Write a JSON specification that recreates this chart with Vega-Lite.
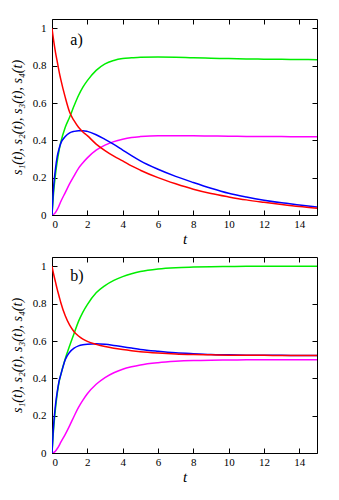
{
  "$schema": "https://vega.github.io/schema/vega-lite/v6.json",
  "autosize": "pad",
  "padding": {"left": 9, "top": 18, "right": 5, "bottom": 5},
  "background": "white",
  "config": {
    "view": {"stroke": "black", "strokeWidth": 1},
    "concat": {"spacing": 9},
    "axis": {
      "grid": false, "domain": false,
      "tickColor": "black", "tickSize": -5, "tickWidth": 1,
      "labelFont": "'Liberation Serif', 'Times New Roman', serif", "labelFontSize": 11, "labelColor": "black", "labelPadding": 11,
      "titleFont": "'Liberation Serif', 'Times New Roman', serif", "titleFontSize": 14, "titleFontWeight": "normal", "titleColor": "black"
    },
    "axisX": {"labelPadding": 8, "titlePadding": 2, "titleFontSize": 15},
    "axisY": {"titlePadding": 8}
  },
  "data": {"values": [
    {"p":"a","t":0,"s1":1,"s2":0,"s3":0,"s4":0},
    {"p":"a","t":0.1,"s1":0.93,"s2":0.13,"s3":0.16,"s4":0.004},
    {"p":"a","t":0.2,"s1":0.87,"s2":0.22,"s3":0.25,"s4":0.014},
    {"p":"a","t":0.3,"s1":0.82,"s2":0.29,"s3":0.315,"s4":0.03},
    {"p":"a","t":0.4,"s1":0.77,"s2":0.345,"s3":0.355,"s4":0.05},
    {"p":"a","t":0.5,"s1":0.725,"s2":0.39,"s3":0.385,"s4":0.072},
    {"p":"a","t":0.75,"s1":0.63,"s2":0.47,"s3":0.42,"s4":0.12},
    {"p":"a","t":1,"s1":0.55,"s2":0.525,"s3":0.44,"s4":0.168},
    {"p":"a","t":1.25,"s1":0.505,"s2":0.585,"s3":0.448,"s4":0.21},
    {"p":"a","t":1.5,"s1":0.47,"s2":0.64,"s3":0.452,"s4":0.25},
    {"p":"a","t":1.75,"s1":0.445,"s2":0.685,"s3":0.452,"s4":0.28},
    {"p":"a","t":2,"s1":0.425,"s2":0.72,"s3":0.448,"s4":0.306},
    {"p":"a","t":2.5,"s1":0.38,"s2":0.775,"s3":0.43,"s4":0.347},
    {"p":"a","t":3,"s1":0.345,"s2":0.81,"s3":0.405,"s4":0.374},
    {"p":"a","t":3.5,"s1":0.315,"s2":0.828,"s3":0.378,"s4":0.393},
    {"p":"a","t":4,"s1":0.29,"s2":0.838,"s3":0.348,"s4":0.406},
    {"p":"a","t":4.5,"s1":0.263,"s2":0.842,"s3":0.318,"s4":0.415},
    {"p":"a","t":5,"s1":0.24,"s2":0.845,"s3":0.29,"s4":0.42},
    {"p":"a","t":6,"s1":0.2,"s2":0.846,"s3":0.245,"s4":0.425},
    {"p":"a","t":7,"s1":0.167,"s2":0.845,"s3":0.207,"s4":0.425},
    {"p":"a","t":8,"s1":0.138,"s2":0.842,"s3":0.174,"s4":0.424},
    {"p":"a","t":9,"s1":0.115,"s2":0.84,"s3":0.143,"s4":0.423},
    {"p":"a","t":10,"s1":0.097,"s2":0.838,"s3":0.116,"s4":0.422},
    {"p":"a","t":11,"s1":0.081,"s2":0.836,"s3":0.096,"s4":0.421},
    {"p":"a","t":12,"s1":0.068,"s2":0.835,"s3":0.079,"s4":0.42},
    {"p":"a","t":13,"s1":0.056,"s2":0.834,"s3":0.065,"s4":0.42},
    {"p":"a","t":14,"s1":0.045,"s2":0.833,"s3":0.054,"s4":0.419},
    {"p":"a","t":15,"s1":0.036,"s2":0.832,"s3":0.043,"s4":0.419},
    {"p":"b","t":0,"s1":1,"s2":0,"s3":0,"s4":0},
    {"p":"b","t":0.1,"s1":0.955,"s2":0.14,"s3":0.16,"s4":0.003},
    {"p":"b","t":0.2,"s1":0.915,"s2":0.24,"s3":0.26,"s4":0.011},
    {"p":"b","t":0.3,"s1":0.875,"s2":0.32,"s3":0.33,"s4":0.024},
    {"p":"b","t":0.4,"s1":0.84,"s2":0.38,"s3":0.385,"s4":0.04},
    {"p":"b","t":0.5,"s1":0.805,"s2":0.42,"s3":0.42,"s4":0.058},
    {"p":"b","t":0.75,"s1":0.735,"s2":0.505,"s3":0.5,"s4":0.1},
    {"p":"b","t":1,"s1":0.685,"s2":0.575,"s3":0.54,"s4":0.147},
    {"p":"b","t":1.25,"s1":0.65,"s2":0.64,"s3":0.562,"s4":0.197},
    {"p":"b","t":1.5,"s1":0.627,"s2":0.705,"s3":0.574,"s4":0.244},
    {"p":"b","t":1.75,"s1":0.61,"s2":0.755,"s3":0.58,"s4":0.283},
    {"p":"b","t":2,"s1":0.598,"s2":0.795,"s3":0.583,"s4":0.317},
    {"p":"b","t":2.5,"s1":0.582,"s2":0.858,"s3":0.585,"s4":0.368},
    {"p":"b","t":3,"s1":0.57,"s2":0.897,"s3":0.582,"s4":0.404},
    {"p":"b","t":3.5,"s1":0.561,"s2":0.925,"s3":0.576,"s4":0.43},
    {"p":"b","t":4,"s1":0.554,"s2":0.945,"s3":0.569,"s4":0.449},
    {"p":"b","t":4.5,"s1":0.548,"s2":0.96,"s3":0.562,"s4":0.462},
    {"p":"b","t":5,"s1":0.543,"s2":0.972,"s3":0.555,"s4":0.472},
    {"p":"b","t":6,"s1":0.536,"s2":0.986,"s3":0.545,"s4":0.484},
    {"p":"b","t":7,"s1":0.531,"s2":0.993,"s3":0.537,"s4":0.491},
    {"p":"b","t":8,"s1":0.528,"s2":0.996,"s3":0.532,"s4":0.495},
    {"p":"b","t":9,"s1":0.526,"s2":0.998,"s3":0.528,"s4":0.497},
    {"p":"b","t":10,"s1":0.524,"s2":0.999,"s3":0.526,"s4":0.498},
    {"p":"b","t":11,"s1":0.523,"s2":1,"s3":0.524,"s4":0.499},
    {"p":"b","t":12,"s1":0.523,"s2":1,"s3":0.523,"s4":0.5},
    {"p":"b","t":13,"s1":0.522,"s2":1,"s3":0.523,"s4":0.5},
    {"p":"b","t":14,"s1":0.522,"s2":1,"s3":0.522,"s4":0.5},
    {"p":"b","t":15,"s1":0.522,"s2":1,"s3":0.522,"s4":0.5}
  ]},
  "vconcat": [
    {
      "width": 265, "height": 196,
      "layer": [
        {
          "transform": [{"filter": "datum.p === 'a'"}, {"fold": ["s2", "s4", "s3", "s1"], "as": ["series", "v"]}],
          "mark": {"type": "line", "strokeWidth": 1.5, "interpolate": "monotone", "clip": true},
          "encoding": {
            "x": {"field": "t", "type": "quantitative", "scale": {"domain": [0, 15], "nice": false}, "axis": {"values": [0, 2, 4, 6, 8, 10, 12, 14], "title": "t", "titleFontStyle": "italic"}},
            "y": {"field": "v", "type": "quantitative", "scale": {"domain": [0, 1.05], "nice": false}, "axis": {"values": [0, 0.2, 0.4, 0.6, 0.8, 1], "format": ".1~f", "title": "s₁(t), s₂(t), s₃(t), s₄(t)", "titleFontStyle": "italic"}},
            "color": {"field": "series", "type": "nominal", "scale": {"domain": ["s1", "s2", "s3", "s4"], "range": ["#ff0000", "#00ee00", "#0000ff", "#ff00ff"]}, "legend": null}
          }
        },
        {
          "data": {"values": [{"label": "a)"}]},
          "mark": {"type": "text", "align": "left", "baseline": "middle", "font": "'Liberation Serif', 'Times New Roman', serif", "fontSize": 16, "color": "black"},
          "encoding": {
            "text": {"field": "label"},
            "x": {"datum": 1.04, "type": "quantitative", "axis": {"orient": "top", "values": [0, 2, 4, 6, 8, 10, 12, 14], "labels": false, "title": null}},
            "y": {"datum": 0.94, "type": "quantitative", "axis": {"orient": "right", "values": [0, 0.2, 0.4, 0.6, 0.8, 1], "labels": false, "title": null}}
          }
        }
      ],
      "resolve": {"axis": {"x": "independent", "y": "independent"}}
    },
    {
      "width": 265, "height": 196,
      "layer": [
        {
          "transform": [{"filter": "datum.p === 'b'"}, {"fold": ["s2", "s4", "s3", "s1"], "as": ["series", "v"]}],
          "mark": {"type": "line", "strokeWidth": 1.5, "interpolate": "monotone", "clip": true},
          "encoding": {
            "x": {"field": "t", "type": "quantitative", "scale": {"domain": [0, 15], "nice": false}, "axis": {"values": [0, 2, 4, 6, 8, 10, 12, 14], "title": "t", "titleFontStyle": "italic"}},
            "y": {"field": "v", "type": "quantitative", "scale": {"domain": [0, 1.05], "nice": false}, "axis": {"values": [0, 0.2, 0.4, 0.6, 0.8, 1], "format": ".1~f", "title": "s₁(t), s₂(t), s₃(t), s₄(t)", "titleFontStyle": "italic"}},
            "color": {"field": "series", "type": "nominal", "scale": {"domain": ["s1", "s2", "s3", "s4"], "range": ["#ff0000", "#00ee00", "#0000ff", "#ff00ff"]}, "legend": null}
          }
        },
        {
          "data": {"values": [{"label": "b)"}]},
          "mark": {"type": "text", "align": "left", "baseline": "middle", "font": "'Liberation Serif', 'Times New Roman', serif", "fontSize": 16, "color": "black"},
          "encoding": {
            "text": {"field": "label"},
            "x": {"datum": 1.04, "type": "quantitative", "axis": {"orient": "top", "values": [0, 2, 4, 6, 8, 10, 12, 14], "labels": false, "title": null}},
            "y": {"datum": 0.95, "type": "quantitative", "axis": {"orient": "right", "values": [0, 0.2, 0.4, 0.6, 0.8, 1], "labels": false, "title": null}}
          }
        }
      ],
      "resolve": {"axis": {"x": "independent", "y": "independent"}}
    }
  ]
}
